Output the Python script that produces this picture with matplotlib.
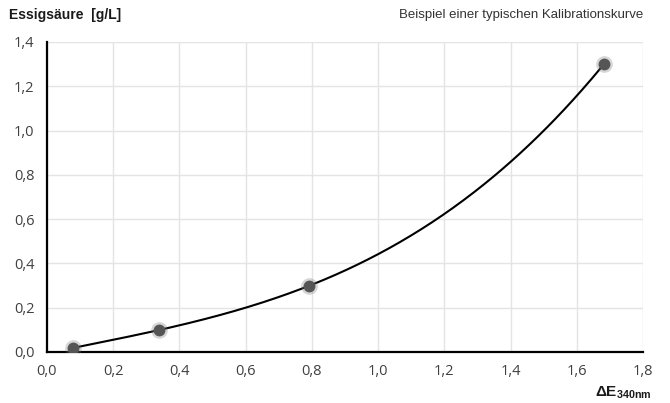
import numpy as np
import matplotlib
matplotlib.use("Agg")
import matplotlib.pyplot as plt
from matplotlib.ticker import FuncFormatter

plt.rcParams["mathtext.fontset"] = "custom"
plt.rcParams["mathtext.bf"] = "Liberation Sans:bold"
plt.rcParams["mathtext.rm"] = "Liberation Sans"

# Data
delta_e = [0.078, 0.338, 0.79, 1.682]
acid = [0.018, 0.099, 0.298, 1.30]

x_ticks = [0.0, 0.2, 0.4, 0.6, 0.8, 1.0, 1.2, 1.4, 1.6, 1.8]
y_ticks = [0.0, 0.2, 0.4, 0.6, 0.8, 1.0, 1.2, 1.4]

fig = plt.figure(figsize=(6.7, 4.03), dpi=100)
ax = fig.add_axes([0.0701, 0.1266, 0.8896, 0.7692])

# Trend line (polynomial fit through the calibration points)
coef = np.polyfit(delta_e, acid, 3)
xs = np.linspace(min(delta_e), max(delta_e), 300)
ax.plot(xs, np.polyval(coef, xs), color="black", lw=1.5, zorder=3)

# Points with soft halo
ax.plot(delta_e, acid, "o", ms=12, color="#7a7a7a", alpha=0.3, mec="none", zorder=4)
ax.plot(delta_e, acid, "o", ms=8.5, color="#555555", mec="none", zorder=5)

ax.set_xlim(0, 1.8)
ax.set_ylim(0, 1.4)
ax.set_xticks(x_ticks)
ax.set_yticks(y_ticks)
fmt = FuncFormatter(lambda v, p: f"{v:.1f}".replace(".", ","))
ax.xaxis.set_major_formatter(fmt)
ax.yaxis.set_major_formatter(fmt)
ax.grid(True, color="#e4e4e4", lw=1, zorder=0)
ax.set_axisbelow(True)
for s in ["top", "right"]:
    ax.spines[s].set_visible(False)
for s in ["left", "bottom"]:
    ax.spines[s].set_color("black")
    ax.spines[s].set_linewidth(1.6)
ax.tick_params(length=0, labelsize=10.5, colors="#404040", pad=9)
for lab in ax.get_xticklabels() + ax.get_yticklabels():
    lab.set_fontfamily("Open Sans")

fig.text(0.013, 0.962, "Essigsäure  [g/L]", fontsize=10, fontweight="bold",
         family="Liberation Sans", ha="left", va="center", color="#1a1a1a")
fig.text(0.96, 0.962, "Beispiel einer typischen Kalibrationskurve", fontsize=9.5,
         family="Liberation Sans", ha="right", va="center", color="#333333")
fig.text(0.972, 0.004, r"$\mathbf{\Delta E_{340nm}}$", fontsize=11,
         ha="right", va="bottom", color="#1a1a1a")

fig.savefig("out.png", dpi=100)
